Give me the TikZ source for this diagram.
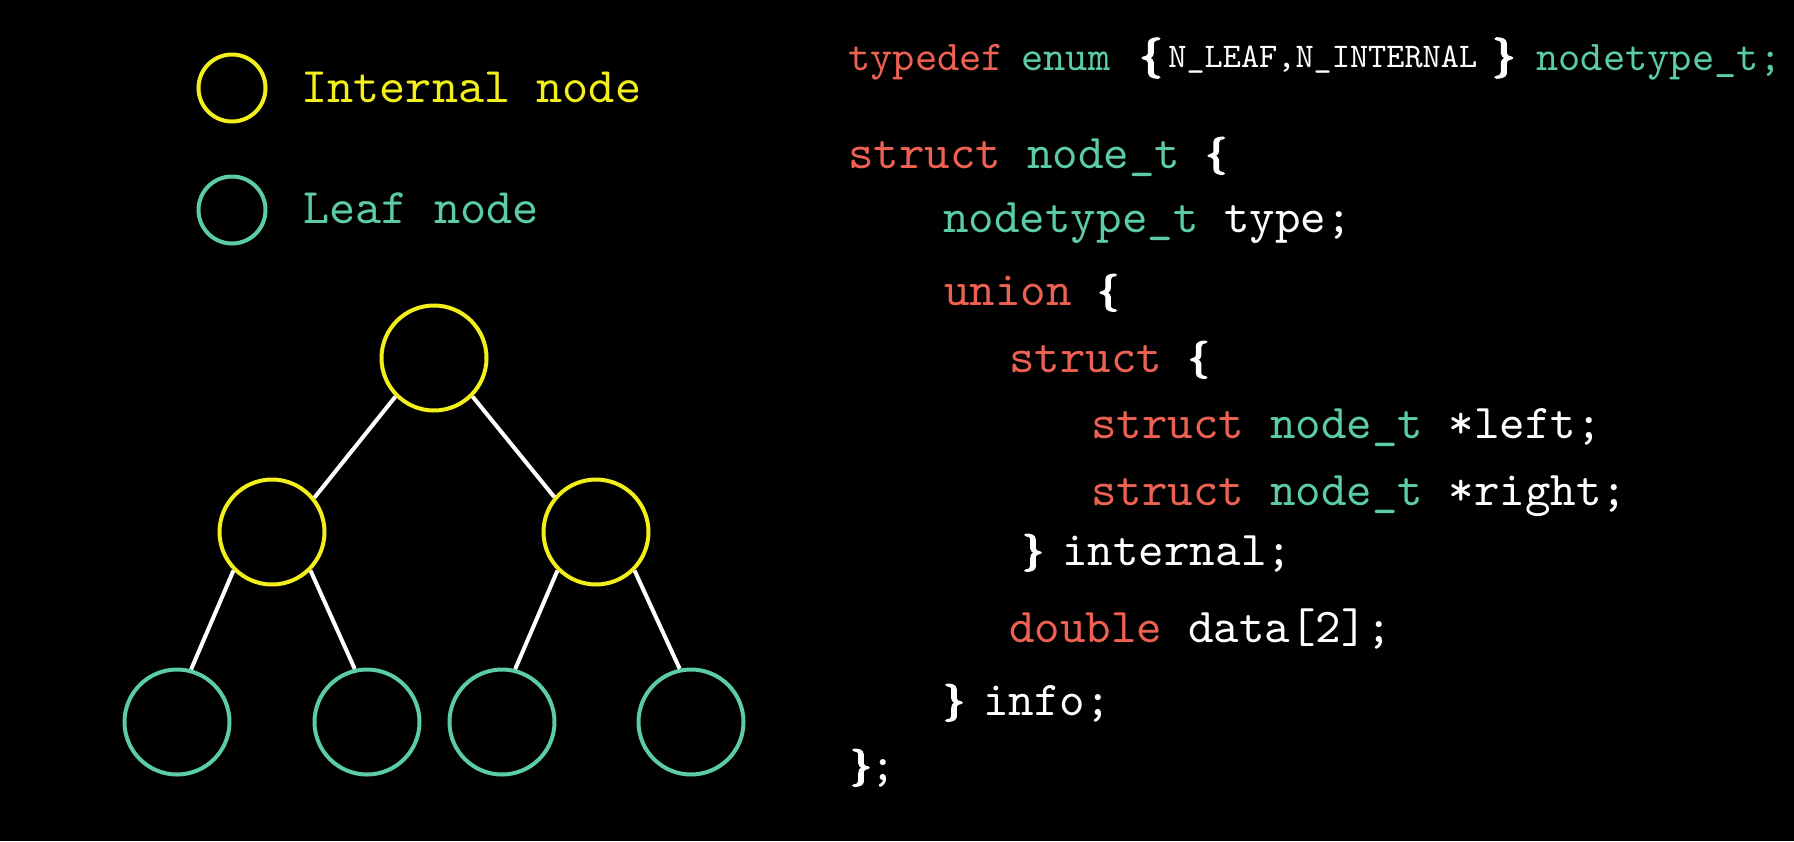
\documentclass[tikz,border=0pt]{standalone}
\usepackage{fontspec}
\newfontfamily\codett{lmmono10-regular.otf}
\newfontfamily\bracefont{lmroman10-bold.otf}[FakeBold=4]
\definecolor{mred}{HTML}{EE6152}
\definecolor{mteal}{HTML}{5CCBAA}
\definecolor{myel}{HTML}{F2EF1A}
\newcommand{\codefont}{\fontsize{24.3pt}{30pt}\selectfont\codett}
\newcommand{\legfont}{\fontsize{24.9pt}{30pt}\selectfont\codett}
\newcommand{\headfont}{\fontsize{21.2pt}{26pt}\selectfont\codett}
\newcommand{\smallcode}{\fontsize{17.3pt}{21pt}\selectfont\codett}
\newcommand{\LBr}{\raisebox{1.5pt}{\fontsize{18.5pt}{22pt}\selectfont\bracefont\{}}
\newcommand{\RBr}{\raisebox{1.5pt}{\fontsize{18.5pt}{22pt}\selectfont\bracefont\}}}
\newcommand{\HLBr}{{\fontsize{20pt}{22pt}\selectfont\bracefont\{}}
\newcommand{\HRBr}{{\fontsize{20pt}{22pt}\selectfont\bracefont\}}}
\newcommand{\kw}[1]{\textcolor{mred}{#1}}
\newcommand{\ty}[1]{\textcolor{mteal}{#1}}
\tikzset{
  code/.style={anchor=base west, inner sep=0pt, text=white, font=\codefont},
  legtext/.style={anchor=base west, inner sep=0pt, font=\legfont},
  head/.style={anchor=base west, inner sep=0pt, text=white, font=\headfont},
  intnode/.style={circle, draw=myel, line width=2pt, minimum size=52.5pt, inner sep=0pt},
  leafnode/.style={circle, draw=mteal, line width=2pt, minimum size=52.5pt, inner sep=0pt},
  legint/.style={circle, draw=myel, line width=2pt, minimum size=33.5pt, inner sep=0pt},
  legleaf/.style={circle, draw=mteal, line width=2pt, minimum size=33.5pt, inner sep=0pt},
  edge/.style={draw=white, line width=2pt}
}
\begin{document}
\begin{tikzpicture}[x=0.5pt, y=-0.5pt]
\useasboundingbox (0,0) rectangle (1794,841);
\fill[black] (0,0) rectangle (1794,841);

% legend
\node[legint] (lgi) at (232,88) {};
\node[legleaf] (lgl) at (232,210) {};
\node[legtext, text=myel] (lgit) at (301,102.7) {Internal node};
\node[legtext, text=mteal] (lglt) at (303,223.3) {Leaf node};

% tree
\node[intnode] (root) at (434,358) {};
\node[intnode] (li) at (272,532) {};
\node[intnode] (ri) at (596,532) {};
\node[leafnode] (l1) at (177,722) {};
\node[leafnode] (l2) at (367,722) {};
\node[leafnode] (l3) at (502,722) {};
\node[leafnode] (l4) at (691,722) {};
\draw[edge] (root.225) -- (li.39);
\draw[edge] (root.315) -- (ri.140);
\draw[edge] (li.225) -- (l1.75);
\draw[edge] (li.315) -- (l2.103);
\draw[edge] (ri.225) -- (l3.76);
\draw[edge] (ri.315) -- (l4.102);

% code line 1
\node[head, text=mred] (c1a) at (848,70) {typedef};
\node[head, text=mteal] (c1b) at (1021,70) {enum};
\node[head] (c1c) at (1139,68) {\HLBr};
\node[anchor=base west, inner sep=0pt, text=white, font=\smallcode] (c1d) at (1168,67) {N\_LEAF,N\_INTERNAL};
\node[head] (c1e) at (1492,68) {\HRBr};
\node[head, text=mteal] (c1f) at (1536,70) {nodetype\_t;};

% code body
\node[code] (c2) at (848,168) {\kw{struct} \ty{node\_t} \LBr};
\node[code] (c3) at (943,232) {\ty{nodetype\_t} type;};
\node[code] (c4) at (944,305) {\kw{union} \LBr};
\node[code] (c5) at (1009,372) {\kw{struct} \LBr};
\node[code] (c6) at (1091,438) {\kw{struct} \ty{node\_t} *left;};
\node[code] (c7) at (1091,505) {\kw{struct} \ty{node\_t} *right;};
\node[code] (c8) at (1022,565) {\makebox[20pt][l]{\RBr}internal;};
\node[code] (c9) at (1009,642) {\kw{double} data[2];};
\node[code] (c10) at (943,715) {\makebox[20pt][l]{\RBr}info;};
\node[code] (c11) at (850,780) {\makebox[10pt][l]{\RBr};};
\end{tikzpicture}
\end{document}
